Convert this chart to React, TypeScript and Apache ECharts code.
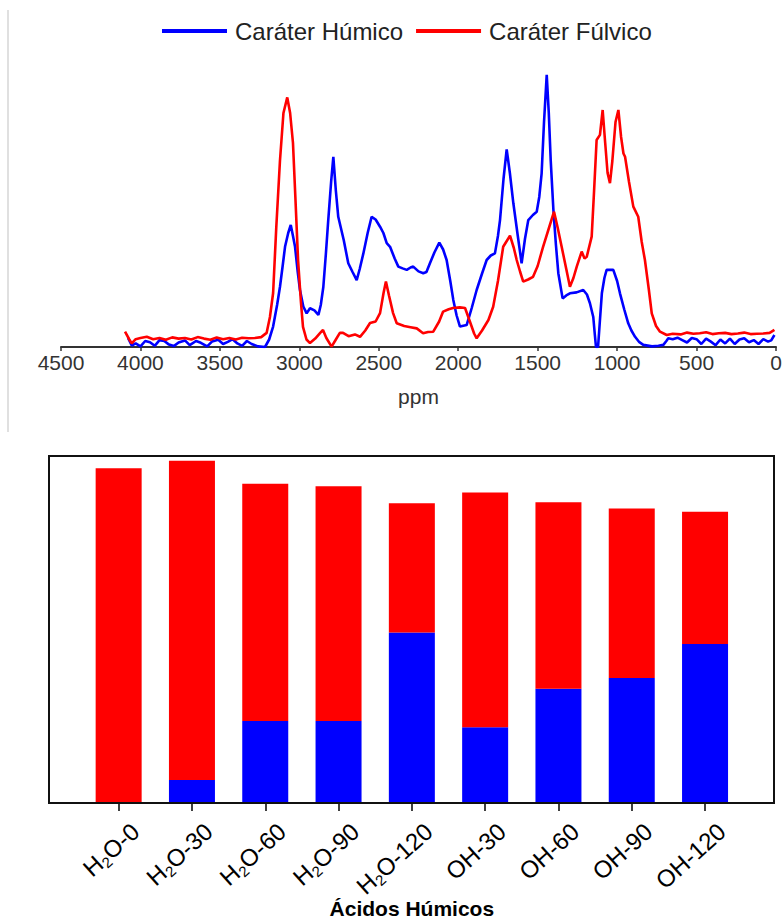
import React, { useEffect, useRef } from "react";
import * as echarts from "echarts";

// FTIR-like spectra: [ppm, intensity]
const humicoSpectrum: [number, number][] = [
  [4078, 3.0], [4055, 0.5], [4030, 1.2], [4000, 0.2], [3970, 2.0], [3940, 1.6], [3910, 0.4], [3880, 2.3],
  [3850, 2.0], [3820, 0.8], [3790, 0.3], [3760, 1.5], [3720, 2.2], [3690, 0.6], [3650, 2.0], [3620, 1.4],
  [3580, 0.2], [3550, 1.8], [3510, 2.4], [3480, 1.0], [3450, 1.7], [3420, 2.6], [3390, 1.2], [3360, 0.4],
  [3330, 2.0], [3300, 1.0], [3260, 0.2], [3216, 0.0], [3190, 2.5], [3165, 6.8], [3140, 14], [3122, 20],
  [3105, 27], [3090, 33.4], [3070, 38], [3054, 40.7], [3040, 37], [3027, 33.4], [3010, 25], [2996, 19],
  [2975, 13.5], [2954, 11.2], [2933, 12.9], [2905, 12.2], [2880, 10.7], [2865, 14], [2849, 20], [2833, 31],
  [2818, 42.3], [2800, 55], [2786, 63.4], [2770, 52], [2755, 43.4], [2720, 35.5], [2692, 27.9], [2665, 25],
  [2639, 22.3], [2620, 26], [2597, 31.2], [2570, 38], [2545, 43.4], [2520, 42.5], [2492, 40.1], [2471, 38],
  [2450, 34.6], [2429, 33.4], [2400, 29.5], [2377, 26.8], [2350, 26.2], [2324, 25.7], [2300, 26.5], [2283, 26.8],
  [2250, 25.2], [2220, 24.6], [2200, 25], [2178, 27.9], [2150, 31.5], [2119, 34.8], [2095, 32.5], [2073, 29],
  [2050, 22], [2031, 15.7], [2010, 10.5], [1989, 6.8], [1947, 7.3], [1915, 13], [1884, 19], [1850, 24.5],
  [1821, 29], [1795, 30.5], [1769, 31.2], [1750, 37], [1737, 42.3], [1715, 56], [1695, 65.9], [1675, 58],
  [1653, 47.9], [1625, 37], [1601, 27.9], [1580, 36], [1559, 42.3], [1530, 44], [1506, 45.1], [1490, 50],
  [1475, 57.9], [1460, 75], [1443, 90.7], [1430, 78], [1418, 62.3], [1401, 45.7], [1385, 34], [1370, 24.6],
  [1343, 16.2], [1320, 17.2], [1297, 17.9], [1255, 18.2], [1213, 19], [1190, 17.5], [1171, 14.6], [1150, 10],
  [1140, 4], [1133, 0], [1120, 0], [1108, 9], [1096, 17.9], [1080, 23], [1066, 25.7], [1024, 25.7],
  [1000, 22], [982, 17.9], [955, 12.5], [930, 7.9], [910, 5.5], [887, 3.4], [860, 1.6], [835, 0.7],
  [780, 0.2], [740, 0.4], [709, 0.7], [690, 2.0], [678, 2.9], [650, 2.6], [620, 3.1], [590, 2.3],
  [560, 1.5], [530, 3.0], [500, 2.6], [470, 1.0], [440, 2.8], [410, 1.8], [380, 0.6], [350, 2.5],
  [320, 1.2], [290, 2.8], [260, 1.0], [230, 2.5], [200, 2.9], [170, 1.6], [140, 2.3], [110, 1.0],
  [80, 2.6], [50, 1.8], [30, 2.2], [10, 4.0],
];

const fulvicoSpectrum: [number, number][] = [
  [4097, 5.1], [4070, 2.5], [4055, 1.2], [4030, 2.6], [4000, 3.0], [3960, 3.4], [3920, 2.6], [3880, 3.0],
  [3840, 2.4], [3800, 3.2], [3760, 2.8], [3720, 3.0], [3680, 2.5], [3640, 3.3], [3600, 2.8], [3560, 2.4],
  [3520, 3.2], [3480, 2.6], [3440, 3.0], [3400, 2.5], [3360, 3.1], [3320, 2.9], [3280, 3.0], [3240, 3.3],
  [3206, 4.7], [3185, 10], [3165, 18], [3145, 40], [3122, 62], [3100, 78], [3076, 83.2], [3058, 78],
  [3040, 68], [3025, 50], [3008, 29], [2990, 15], [2977, 6.7], [2955, 2.5], [2933, 1.3], [2900, 2.8],
  [2870, 4.6], [2851, 5.7], [2830, 3.0], [2797, 0.1], [2770, 2.5], [2745, 4.7], [2725, 4.7], [2690, 3.6],
  [2650, 4.2], [2618, 3.4], [2585, 5.5], [2555, 8], [2520, 8.5], [2492, 11.3], [2470, 18], [2455, 21.8],
  [2435, 17], [2410, 11.3], [2387, 7.9], [2340, 7.0], [2300, 6.6], [2261, 6.2], [2221, 4.6], [2190, 5.0],
  [2157, 5.1], [2120, 8.5], [2095, 11.8], [2060, 12.6], [2033, 13], [1990, 13.2], [1957, 13], [1930, 9],
  [1900, 4.5], [1884, 2.9], [1850, 5.5], [1810, 9], [1780, 13.4], [1750, 22], [1717, 33.4], [1674, 37.1],
  [1650, 33], [1632, 29], [1610, 25], [1591, 21.8], [1560, 22.5], [1529, 23.4], [1500, 27], [1466, 33.4],
  [1430, 39.5], [1397, 45.1], [1375, 40], [1349, 33.4], [1320, 26], [1297, 20.1], [1275, 23], [1254, 26.8],
  [1223, 31.8], [1205, 29.5], [1191, 30.1], [1160, 36.8], [1145, 52], [1129, 69], [1108, 70.7], [1091, 79],
  [1075, 68], [1060, 58], [1045, 54.6], [1030, 62], [1010, 75], [992, 79], [975, 70], [960, 64.5],
  [950, 63.4], [925, 55], [898, 46.8], [867, 43.4], [845, 35], [825, 29], [800, 19], [782, 11.2],
  [755, 7], [730, 5.1], [688, 4.0], [650, 4.4], [600, 4.2], [560, 4.8], [520, 4.4], [480, 4.6],
  [440, 4.9], [400, 4.3], [360, 4.6], [320, 4.7], [280, 4.3], [240, 4.5], [200, 4.8], [160, 4.3],
  [120, 4.4], [80, 4.5], [40, 4.7], [10, 5.7],
];

// Stacked composition per extraction
const amostras = ["H2O-0", "H2O-30", "H2O-60", "H2O-90", "H2O-120", "OH-30", "OH-60", "OH-90", "OH-120"];
const humicoParte = [0, 6.6, 23.6, 23.6, 49.1, 21.8, 32.9, 36.0, 45.8];
const fulvicoParte = [96.5, 92.0, 68.4, 67.7, 37.3, 67.7, 53.8, 48.9, 38.1];

const ppmTicks = { min: 0, max: 4500, interval: 500 };

const AZUL = "#0000ff";
const VERMELHO = "#ff0000";
const FONT = "'Liberation Sans', Arial, sans-serif";

function amostraLabel(v: string): string {
  if (v.startsWith("H2O")) return `{n|H}{s|2}{n|${v.slice(2)}}`;
  return `{n|${v}}`;
}

export default function App() {
  const ref = useRef<HTMLDivElement>(null);

  useEffect(() => {
    if (!ref.current) return;
    const chart = echarts.init(ref.current, null, { renderer: "svg" });
    chart.setOption({
      animation: false,
      backgroundColor: "#ffffff",
      textStyle: { fontFamily: FONT },
      legend: {
        data: ["Caráter Húmico", "Caráter Fúlvico"],
        left: 157,
        top: 14,
        icon: "rect",
        itemWidth: 65,
        itemHeight: 4,
        itemGap: 13,
        textStyle: { fontSize: 24, color: "#222", fontFamily: FONT, padding: [0, 0, 0, 3] },
      },
      grid: [
        { left: 61, right: 7, top: 47, height: 300, outerBoundsMode: "none", containLabel: false },
        { left: 82, width: 659.7, top: 456, height: 347, outerBoundsMode: "none", containLabel: false },
      ],
      xAxis: [
        {
          gridIndex: 0,
          type: "value",
          inverse: true,
          min: ppmTicks.min,
          max: ppmTicks.max,
          interval: ppmTicks.interval,
          name: "ppm",
          nameLocation: "middle",
          nameGap: 39,
          nameMoveOverlap: false,
          nameTextStyle: { fontSize: 21, color: "#333", fontFamily: FONT },
          axisLine: { show: true, onZero: false, lineStyle: { color: "#333", width: 2 } },
          axisTick: { show: true, length: 4, lineStyle: { color: "#333", width: 1.5 } },
          axisLabel: {
            fontSize: 21,
            color: "#333",
            fontFamily: FONT,
            margin: 5,
            showMaxLabel: true,
            showMinLabel: true,
            formatter: (v: number) => String(v),
          },
          splitLine: { show: false },
        },
        {
          gridIndex: 1,
          type: "category",
          data: amostras,
          name: "Ácidos Húmicos",
          nameLocation: "middle",
          nameGap: 95,
          nameMoveOverlap: false,
          nameTextStyle: { fontSize: 21, fontWeight: "bold", color: "#000", fontFamily: FONT },
          axisLine: { show: false },
          axisTick: { show: true, alignWithLabel: true, length: 8, lineStyle: { color: "#000", width: 1.5 } },
          axisLabel: {
            rotate: 42,
            margin: 21,
            interval: 0,
            verticalAlign: "top",
            padding: [0, -10, 0, 0],
            formatter: amostraLabel,
            rich: {
              n: { fontSize: 24, color: "#000", lineHeight: 28, fontFamily: FONT },
              s: { fontSize: 15, color: "#000", lineHeight: 15, verticalAlign: "bottom", fontFamily: FONT },
            },
          },
        },
      ],
      yAxis: [
        { gridIndex: 0, type: "value", min: 0, max: 100, show: false },
        { gridIndex: 1, type: "value", min: 0, max: 100, show: false },
      ],
      series: [
        {
          name: "Caráter Húmico",
          type: "line",
          xAxisIndex: 0,
          yAxisIndex: 0,
          data: humicoSpectrum,
          showSymbol: false,
          symbol: "none",
          lineStyle: { color: AZUL, width: 2.6 },
          itemStyle: { color: AZUL },
          z: 2,
        },
        {
          name: "Caráter Fúlvico",
          type: "line",
          xAxisIndex: 0,
          yAxisIndex: 0,
          data: fulvicoSpectrum,
          showSymbol: false,
          symbol: "none",
          lineStyle: { color: VERMELHO, width: 2.6 },
          itemStyle: { color: VERMELHO },
          z: 3,
        },
        {
          name: "Caráter Húmico",
          type: "bar",
          xAxisIndex: 1,
          yAxisIndex: 1,
          stack: "total",
          barWidth: 46,
          data: humicoParte,
          itemStyle: { color: AZUL },
        },
        {
          name: "Caráter Fúlvico",
          type: "bar",
          xAxisIndex: 1,
          yAxisIndex: 1,
          stack: "total",
          barWidth: 46,
          data: fulvicoParte,
          itemStyle: { color: VERMELHO },
        },
      ],
      graphic: [
        {
          type: "line",
          shape: { x1: 8, y1: 10, x2: 8, y2: 432 },
          style: { stroke: "#d6d6d6", lineWidth: 1.5 },
          silent: true,
        },
        {
          type: "rect",
          shape: { x: 49, y: 456, width: 725, height: 347 },
          style: { fill: "none", stroke: "#111", lineWidth: 2 },
          z: 100,
          silent: true,
        },
      ],
    });
    return () => chart.dispose();
  }, []);

  return (
    <div
      ref={ref}
      style={{ position: "fixed", left: 0, top: 0, width: 783, height: 922, background: "#fff" }}
    />
  );
}
